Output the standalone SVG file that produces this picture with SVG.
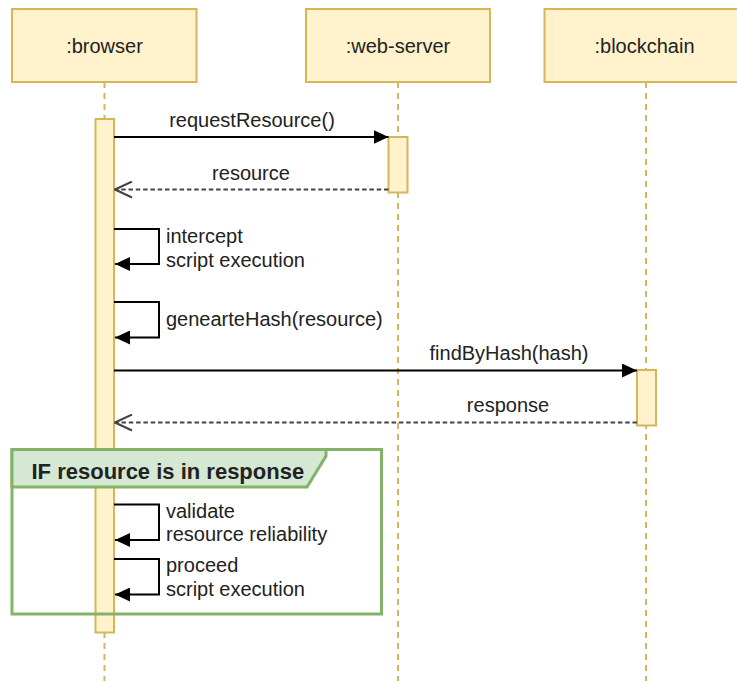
<svg xmlns="http://www.w3.org/2000/svg" width="737" height="681" viewBox="0 0 737 681">
  <style>
    text { font-family: "Liberation Sans", Arial, Helvetica, sans-serif; font-size: 20px; fill: #222; }
    .head { fill: #fff2cc; stroke: #d6b656; stroke-width: 2; }
    .life { stroke: #d6b656; stroke-width: 2; stroke-dasharray: 6 5; fill: none; }
    .bar { fill: #fff2cc; stroke: #d6b656; stroke-width: 2; }
    .msg { stroke: #000; stroke-width: 2; fill: none; }
    .ret { stroke: #444; stroke-width: 2.2; stroke-dasharray: 4.5 2.8; fill: none; }
    .frame { fill: none; stroke: #82b366; stroke-width: 3; }
    .tab { fill: #d5e8d4; stroke: #82b366; stroke-width: 3; }
    .title { font-weight: bold; font-size: 22px; }
  </style>
  <defs>
    <marker id="block" markerUnits="userSpaceOnUse" viewBox="0 0 15 14" refX="15" refY="7" markerWidth="15" markerHeight="14" orient="auto">
      <path d="M0,0 L15,7 L0,14 Z" fill="#000"/>
    </marker>
    <marker id="open" markerUnits="userSpaceOnUse" viewBox="-1 -1 19 18" refX="17" refY="8" markerWidth="19" markerHeight="18" orient="auto">
      <path d="M0,0 L17,8 L0,16" fill="none" stroke="#444" stroke-width="2"/>
    </marker>
  </defs>
  <rect width="737" height="681" fill="#fff"/>

  <!-- lifelines -->
  <g id="browser">
    <line class="life" x1="104.5" y1="82" x2="104.5" y2="681"/>
    <rect class="head" x="12" y="9" width="184.5" height="73"/>
    <text x="104.5" y="53" text-anchor="middle">:browser</text>
    <rect class="bar" x="95.5" y="119" width="18.5" height="513.5"/>
  </g>
  <g id="web-server">
    <line class="life" x1="398" y1="82" x2="398" y2="681"/>
    <rect class="head" x="306" y="9" width="184" height="73"/>
    <text x="398" y="53" text-anchor="middle">:web-server</text>
    <rect class="bar" x="388.5" y="137" width="19" height="55.5"/>
  </g>
  <g id="blockchain">
    <line class="life" x1="646" y1="82" x2="646" y2="681"/>
    <rect class="head" x="544.5" y="9" width="210" height="73"/>
    <text x="644.5" y="53" text-anchor="middle">:blockchain</text>
    <rect class="bar" x="637" y="370" width="19" height="55.5"/>
  </g>

  <!-- conditional fragment -->
  <g id="if-frame">
    <rect class="frame" x="12" y="449.5" width="369.5" height="164.5"/>
    <path class="tab" d="M12,449.5 H326 V456 L307,487 H12 Z"/>
    <text class="title" x="31.5" y="479">IF resource is in response</text>
  </g>

  <!-- messages -->
  <g id="connectors">
    <line class="msg" x1="114" y1="137" x2="388.5" y2="137" marker-end="url(#block)"/>
    <line class="ret" x1="388.5" y1="189.5" x2="115" y2="189.5" marker-end="url(#open)"/>
    <path class="msg" d="M114,229 H159 V264 H115" marker-end="url(#block)"/>
    <path class="msg" d="M114,302 H159 V337.5 H115" marker-end="url(#block)"/>
    <line class="msg" x1="114" y1="370.5" x2="637" y2="370.5" marker-end="url(#block)"/>
    <line class="ret" x1="637" y1="422.5" x2="115" y2="422.5" marker-end="url(#open)"/>
    <path class="msg" d="M114,504.5 H159 V540 H115" marker-end="url(#block)"/>
    <path class="msg" d="M114,559 H159 V594.5 H115" marker-end="url(#block)"/>
  </g>

  <!-- message labels -->
  <g id="labels">
    <text x="252" y="127" text-anchor="middle">requestResource()</text>
    <text x="251" y="179.5" text-anchor="middle">resource</text>
    <text x="166" y="243">intercept</text>
    <text x="166" y="266.5">script execution</text>
    <text x="166" y="326">genearteHash(resource)</text>
    <text x="509" y="360" text-anchor="middle">findByHash(hash)</text>
    <text x="508" y="412" text-anchor="middle">response</text>
    <text x="166" y="517.5">validate</text>
    <text x="166" y="540.5">resource reliability</text>
    <text x="166" y="571.5">proceed</text>
    <text x="166" y="596">script execution</text>
  </g>
</svg>
